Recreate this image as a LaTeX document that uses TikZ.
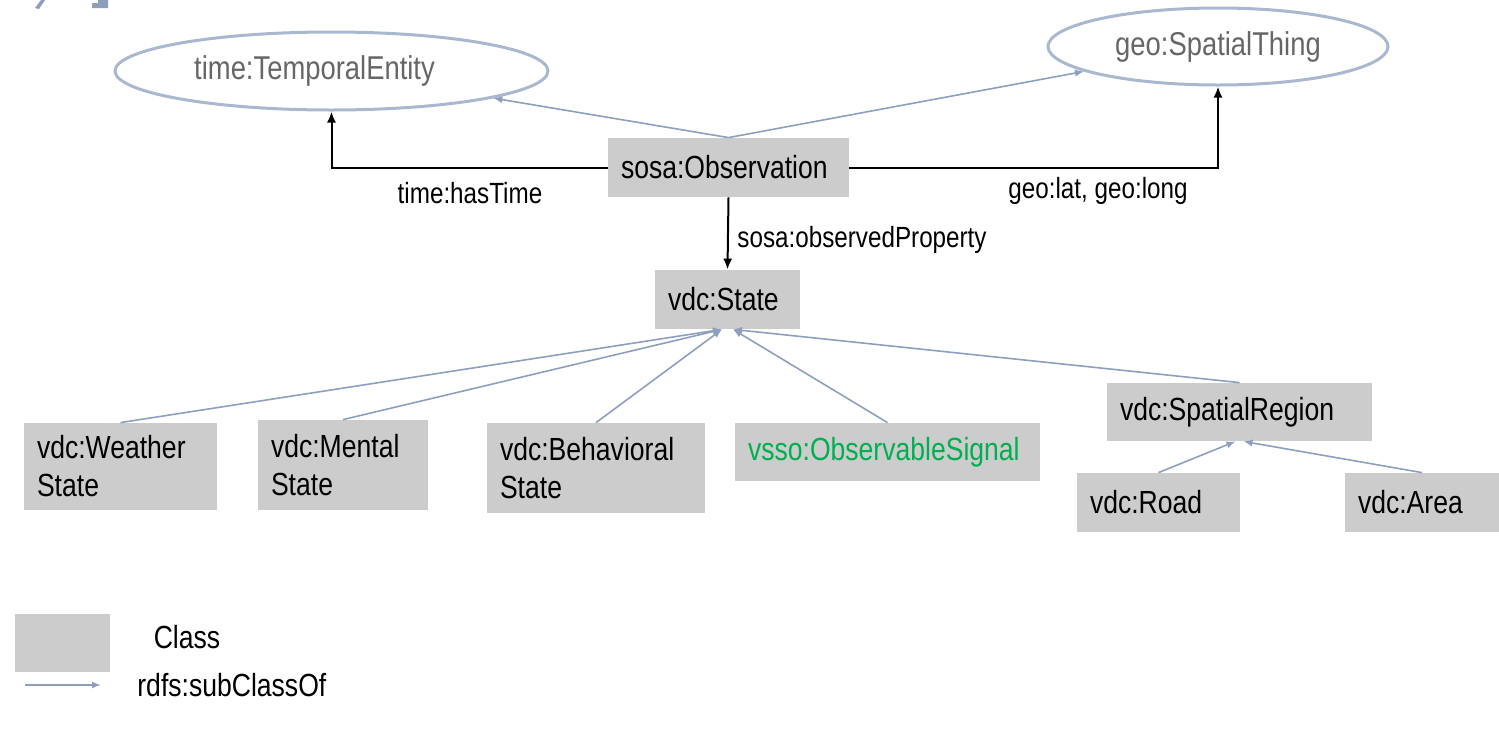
\documentclass[tikz,border=0pt]{standalone}
\usepackage{fontspec}
\setmainfont[FakeStretch=0.83]{Liberation Sans}
\usetikzlibrary{shapes.geometric,arrows.meta}
\definecolor{boxgray}{HTML}{CCCCCC}
\definecolor{subblue}{HTML}{8E9FBE}
\definecolor{ellblue}{HTML}{AAB8CF}
\definecolor{elltext}{HTML}{666666}
\definecolor{sigreen}{HTML}{00B050}
\definecolor{logoblue}{HTML}{8D9DBA}
\begin{document}
\begin{tikzpicture}[x=0.5pt,y=-0.5pt,
  cls/.style={fill=boxgray, inner xsep=6.5pt, inner ysep=0pt, align=left,
    font=\fontsize{16}{19}\selectfont},
  ell/.style={ellipse, draw=ellblue, line width=1.5pt, inner sep=0pt,
    text=elltext, font=\fontsize{16.5}{19}\selectfont},
  lbl/.style={inner sep=0pt, font=\fontsize{14.6}{17}\selectfont},
  leg/.style={inner sep=0pt, font=\fontsize{16}{19}\selectfont},
  rel/.style={draw=black, line width=1pt, -{Latex[length=5.5pt,width=4.5pt]}},
  sub/.style={draw=subblue, line width=0.8pt, -{Latex[length=4.5pt,width=3.6pt]}}
]
\useasboundingbox (0,0) rectangle (1499,729);

% logo fragments at the top edge
\fill[logoblue] (35,8) -- (39,9) -- (45,0) -- (41,0) -- cycle;
\fill[logoblue] (98,0) -- (108,0) -- (108,8) -- (92,8) -- (92,3) -- (98,3) -- cycle;

% ellipses
\node[ell, minimum width=216.5pt, minimum height=39pt] (tent) at (331.5,71) {time:TemporalEntity\hspace*{17pt}};
\node[ell, minimum width=170pt, minimum height=38.5pt] (geo) at (1218,46.5) {geo:SpatialThing};

% classes
\node[cls, text width=107.5pt, minimum height=29.5pt] (obs) at (728.5,167.5) {sosa:Observation};
\node[cls, text width=59.5pt, minimum height=29.5pt] (state) at (727.5,299.5) {vdc:State};
\node[cls, text width=83.5pt, minimum height=43.5pt] (weather) at (120.5,466.5) {vdc:Weather\\State};
\node[cls, text width=72pt, minimum height=45pt] (mental) at (343,465) {vdc:Mental\\State};
\node[cls, text width=96pt, minimum height=45pt] (behav) at (596,468) {vdc:Behavioral\\State};
\node[cls, text width=139.5pt, minimum height=29pt, text=sigreen] (signal) at (887.5,452) {vsso:ObservableSignal};
\node[cls, text width=119.5pt, minimum height=29pt] (spatial) at (1239.5,412) {vdc:SpatialRegion};
\node[cls, text width=68.5pt, minimum height=29.5pt] (road) at (1158.5,502.5) {vdc:Road};
\node[cls, text width=64pt, minimum height=29.5pt] (area) at (1422,502.5) {vdc:Area};

% properties
\draw[rel] (obs.west) -| (tent.south);
\draw[rel] (obs.east) -| (geo.south);
\draw[rel] (obs.south) -- (state.north);
\node[lbl] (lhastime) at (470,193) {time:hasTime};
\node[lbl] (llatlong) at (1098,191) {geo:lat, geo:long};
\node[lbl, anchor=west] (lobsprop) at (737,240) {sosa:observedProperty};

% subclass relations
\draw[sub] (obs.north) -- (tent);
\draw[sub] (obs.north) -- (geo);
\draw[sub] (weather.north) -- ([xshift=-2.75pt]state.south);
\draw[sub] (mental.north) -- ([xshift=-2.75pt]state.south);
\draw[sub] (behav.north) -- ([xshift=-2.75pt]state.south);
\draw[sub] (signal.north) -- ([xshift=2.75pt]state.south);
\draw[sub] (spatial.north) -- ([xshift=2.75pt]state.south);
\draw[sub] (road.north) -- ([xshift=-2pt]spatial.south);
\draw[sub] (area.north) -- ([xshift=2pt]spatial.south);

% legend
\node[fill=boxgray, minimum width=47.5pt, minimum height=29pt, inner sep=0pt] (legcls) at (62.5,643) {};
\node[leg] (legclstext) at (187,637) {Class};
\coordinate (la1) at (25,685);
\coordinate (la2) at (101,685);
\draw[sub, line width=1pt] (la1) -- (la2);
\node[leg, anchor=west] (legsubtext) at (137,685) {rdfs:subClassOf};
\end{tikzpicture}
\end{document}
